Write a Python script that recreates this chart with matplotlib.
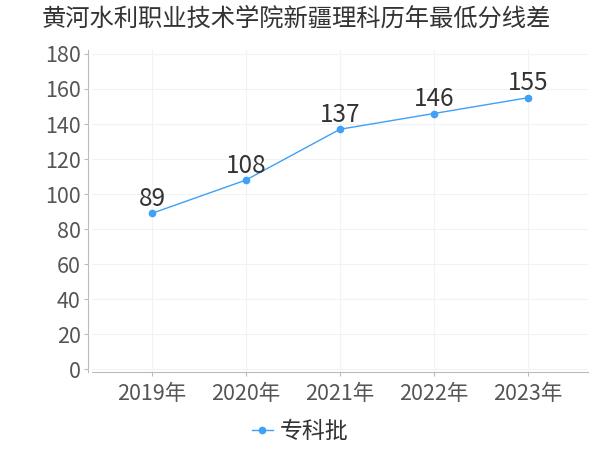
import matplotlib
matplotlib.use('Agg')
import matplotlib.pyplot as plt
from matplotlib.lines import Line2D

plt.rcParams['font.family'] = ['Noto Sans CJK SC', 'DejaVu Sans']

# data
years = ['2019年', '2020年', '2021年', '2022年', '2023年']
scores = [89, 108, 137, 146, 155]
series_name = '专科批'
title = '黄河水利职业技术学院新疆理科历年最低分线差'
yticks = [0, 20, 40, 60, 80, 100, 120, 140, 160, 180]

line_color = '#3fa0f5'

fig = plt.figure(figsize=(6, 4.5), dpi=100)
ax = fig.add_axes([0.153, 0.173, 0.827, 0.716])

x = list(range(len(years)))
ax.plot(x, scores, color=line_color, lw=1, marker='o', ms=4.5, zorder=3)
for xi, v in zip(x, scores):
    ax.annotate(str(v), (xi, v), xytext=(0, 1), textcoords='offset points',
                ha='center', va='bottom', fontsize=17.5, color='#333333')

ax.set_xlim(-0.64, len(years) - 1 + 0.64)
ax.set_ylim(-1.7, 182.3)
ax.set_xticks(x)
ax.set_xticklabels(years)
ax.set_yticks(yticks)

ax.grid(True, color='#f2f2f2', lw=0.8)
ax.set_axisbelow(True)
for s in ['top', 'right']:
    ax.spines[s].set_visible(False)
ax.spines['left'].set_color('#bbbbbb')
ax.spines['bottom'].set_color('#bbbbbb')
ax.spines['left'].set_position(('outward', 3))
ax.tick_params(axis='both', colors='#bbbbbb', labelcolor='#555555', labelsize=15.5, length=3)
ax.tick_params(axis='x', pad=5)
ax.tick_params(axis='y', pad=2)

fig.text(0.07, 0.958, title, fontsize=17.5, color='#333333', ha='left', va='center')

handle = Line2D([0], [0], color=line_color, lw=1, marker='o', ms=4.5)
fig.legend([handle], [series_name], loc='center', bbox_to_anchor=(0.5, 0.04),
           frameon=False, fontsize=16.5, handlelength=0.9, handletextpad=0.3,
           labelcolor='#333333')

fig.savefig('out.png', dpi=100)
